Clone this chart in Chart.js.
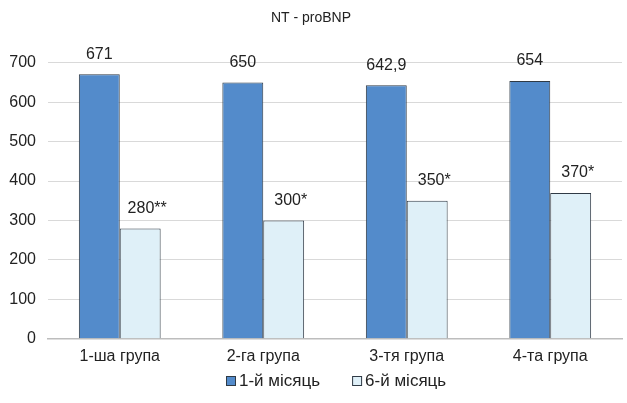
<!DOCTYPE html>
<html>
<head>
<meta charset="utf-8">
<script src="https://cdn.jsdelivr.net/npm/chart.js@4/dist/chart.umd.min.js"></script>
<style>
  html, body { margin: 0; padding: 0; background: #fff; }
  #wrap { width: 627px; height: 403px; position: relative; }
</style>
</head>
<body>
<div id="wrap"><canvas id="c"></canvas></div>
<script>
const FONT = "'Liberation Sans Narrow', 'Arial Narrow', 'Liberation Sans', sans-serif";

const categories = ['1-ша група', '2-га група', '3-тя група', '4-та група'];
const seriesNames = ['1-й місяць', '6-й місяць'];
const month1 = [671, 650, 642.9, 654];
const month6 = [280, 300, 350, 370];
const month1Marks = ['', '', '', ''];
const month6Marks = ['**', '*', '*', '*'];
const yTicks = [0, 100, 200, 300, 400, 500, 600, 700];

// value labels above each bar, decimal comma
const valueLabels = {
  id: 'valueLabels',
  afterDatasetsDraw(chart) {
    const ctx = chart.ctx;
    ctx.save();
    ctx.font = '16px ' + FONT;
    ctx.fillStyle = '#222';
    ctx.textAlign = 'center';
    ctx.textBaseline = 'bottom';
    chart.data.datasets.forEach((ds, di) => {
      const meta = chart.getDatasetMeta(di);
      meta.data.forEach((bar, i) => {
        const v = ds.data[i];
        const txt = String(v).replace('.', ',') + ds.marks[i];
        ctx.fillText(txt, bar.x + (ds.marks[i] ? 7 : 0), bar.y - 12);
      });
    });
    ctx.restore();
  }
};

// compact legend row under the category labels
const bottomLegend = {
  id: 'bottomLegend',
  afterDraw(chart) {
    const ctx = chart.ctx;
    const box = 9, textGap = 4, itemGap = 32;
    const y = chart.height - 23;
    ctx.save();
    ctx.font = '17px ' + FONT;
    ctx.textBaseline = 'middle';
    ctx.textAlign = 'left';
    const items = chart.data.datasets.map(ds => ({
      text: ds.label, fill: ds.backgroundColor, w: ctx.measureText(ds.label).width
    }));
    const total = items.reduce((s, it) => s + box + textGap + it.w, 0) + itemGap * (items.length - 1);
    let x = Math.round(chart.width / 2 + 23 - total / 2);
    items.forEach(it => {
      ctx.fillStyle = it.fill;
      ctx.strokeStyle = '#2f3a45';
      ctx.lineWidth = 1;
      ctx.fillRect(x + 0.5, Math.round(y - box / 2) + 0.5, box, box);
      ctx.strokeRect(x + 0.5, Math.round(y - box / 2) + 0.5, box, box);
      ctx.fillStyle = '#222';
      ctx.fillText(it.text, x + box + textGap, y + 1);
      x += box + textGap + it.w + itemGap;
    });
    ctx.restore();
  }
};

new Chart(document.getElementById('c'), {
  type: 'bar',
  data: {
    labels: categories,
    datasets: [
      { label: seriesNames[0], data: month1, marks: month1Marks,
        backgroundColor: '#538BCB', borderColor: '#2f3a45', borderWidth: 1 },
      { label: seriesNames[1], data: month6, marks: month6Marks,
        backgroundColor: '#DFF0F8', borderColor: '#2f3a45', borderWidth: 1 }
    ]
  },
  options: {
    responsive: true,
    maintainAspectRatio: false,
    animation: false,
    layout: { padding: { left: 0, right: 5, top: 6, bottom: 29 } },
    plugins: {
      title: {
        display: true, text: 'NT - proBNP', color: '#222',
        font: { family: FONT, size: 14, weight: 'normal' },
        padding: { top: 4, bottom: 36 }
      },
      legend: { display: false },
      tooltip: { enabled: false }
    },
    datasets: { bar: { categoryPercentage: 0.57, barPercentage: 1.0 } },
    scales: {
      x: {
        grid: { display: false, drawTicks: false },
        border: { display: true, color: '#bdbdbd', width: 1.5 },
        ticks: { color: '#222', font: { family: FONT, size: 16 }, padding: 8 }
      },
      y: {
        min: 0, max: 700,
        afterFit(scale) { scale.width = 48; },
        afterBuildTicks(scale) { scale.ticks = yTicks.map(v => ({ value: v })); },
        grid: { color: '#d9d9d9', drawTicks: false },
        border: { display: false },
        ticks: { color: '#222', font: { family: FONT, size: 16 }, padding: 12 }
      }
    }
  },
  plugins: [valueLabels, bottomLegend]
});
</script>
</body>
</html>
